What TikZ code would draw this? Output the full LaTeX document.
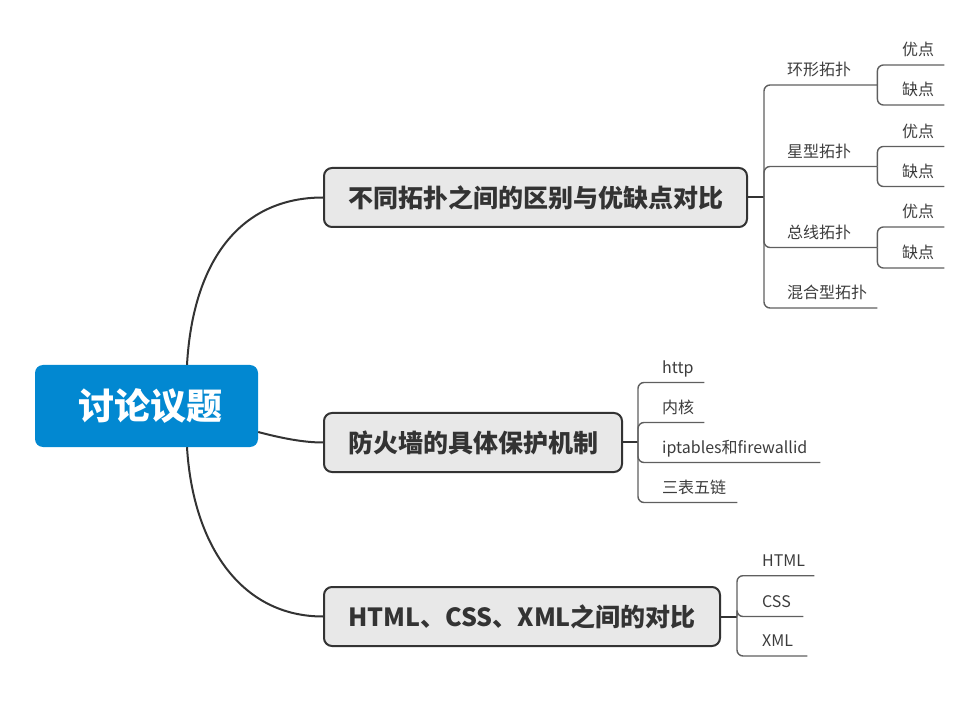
\documentclass[tikz,border=0pt]{standalone}
\usepackage{fontspec}
\setmainfont{Noto Sans CJK SC}
\usepackage{tikz}
\usetikzlibrary{positioning,calc}
\definecolor{rootblue}{RGB}{2,136,209}
\definecolor{boxgray}{RGB}{232,232,232}
\definecolor{inkdark}{RGB}{51,51,51}
\definecolor{inkgray}{RGB}{95,95,95}
\definecolor{textgray}{RGB}{60,60,60}
\tikzset{
  topic/.style ={rectangle, rounded corners=8pt, fill=rootblue, text=white,
                 font=\fontsize{36}{40}\selectfont\bfseries, minimum width=223pt, minimum height=82pt},
  branch/.style={rectangle, rounded corners=8pt, draw=inkdark, line width=2pt, fill=boxgray, text=inkdark,
                 font=\fontsize{25}{28}\selectfont\bfseries, minimum height=59pt, anchor=west},
  leaf/.style  ={anchor=south west, inner xsep=10pt, inner ysep=7pt, text height=14pt, text depth=2pt,
                 align=left, font=\fontsize{16}{19}\selectfont, text=textgray},
  trunk/.style ={line width=2pt, draw=inkdark},
  twig/.style  ={line width=1.4pt, draw=inkgray, rounded corners=6pt},
}
\begin{document}
\begin{tikzpicture}[x=1pt, y=-1pt]
\useasboundingbox (0,0) rectangle (978,703);
\node[topic] (root) at (146.5,406) {\hspace*{8pt}讨论议题};
\node[branch, minimum width=423pt] (b1) at (323,197.5) {不同拓扑之间的区别与优缺点对比};
\node[branch, minimum width=298pt] (b2) at (323,442.5) {防火墙的具体保护机制};
\node[branch, minimum width=396pt] (b3) at (323,616.5) {HTML、CSS、XML之间的对比};
\draw[trunk] ([xshift=40.5pt]root.north) .. controls +(6,-105) and +(-82,0) .. (b1.west);
\draw[trunk] ([yshift=-26pt]root.east) .. controls +(30,8) and +(-15,0) .. (b2.west);
\draw[trunk] ([xshift=40.5pt]root.south) .. controls +(6,98) and +(-82,0) .. (b3.west);

\coordinate (b1j) at ($(b1.east)+(16,0)$);
\coordinate (b2j) at ($(b2.east)+(15,0)$);
\coordinate (b3j) at ($(b3.east)+(16,0)$);
\draw[trunk] (b1.east) -- (b1j);
\draw[trunk] (b2.east) -- (b2j);
\draw[trunk] (b3.east) -- (b3j);

\node[leaf, text width=80pt] (t1) at (777,85) {环形拓扑};
\node[leaf, text width=80pt] (t2) at (777,166.5) {星型拓扑};
\node[leaf, text width=80pt] (t3) at (777,247.5) {总线拓扑};
\node[leaf, text width=80pt] (t4) at (777,308) {混合型拓扑};
\foreach \c in {t1,t2,t3,t4} \draw[twig] (b1j) |- (\c.south west) -- (\c.south east);

\node[leaf, text width=32pt] (t1a) at (892,65) {优点};
\node[leaf, text width=32pt] (t1b) at (892,105) {缺点};
\node[leaf, text width=32pt] (t2a) at (892,146.5) {优点};
\node[leaf, text width=32pt] (t2b) at (892,186.5) {缺点};
\node[leaf, text width=32pt] (t3a) at (892,227) {优点};
\node[leaf, text width=32pt] (t3b) at (892,268) {缺点};
\foreach \p/\c in {t1/t1a,t1/t1b,t2/t2a,t2/t2b,t3/t3a,t3/t3b}
  \draw[twig] (\p.south east) |- (\c.south west) -- (\c.south east);

\node[leaf, text width=32pt] (f1) at (652,382.5) {http};
\node[leaf, text width=32pt] (f2) at (652,422.5) {内核};
\node[leaf, text width=148pt] (f3) at (652,462.5) {iptables和firewallid};
\node[leaf, text width=65pt] (f4) at (652,502.5) {三表五链};
\foreach \c in {f1,f2,f3,f4} \draw[twig] (b2j) |- (\c.south west) -- (\c.south east);

\node[leaf, text width=42pt] (w1) at (752,575.7) {HTML};
\node[leaf, text width=31pt] (w2) at (752,616.5) {CSS};
\node[leaf, text width=35pt] (w3) at (752,656) {XML};
\foreach \c in {w1,w2,w3} \draw[twig] (b3j) |- (\c.south west) -- (\c.south east);
\end{tikzpicture}
\end{document}
